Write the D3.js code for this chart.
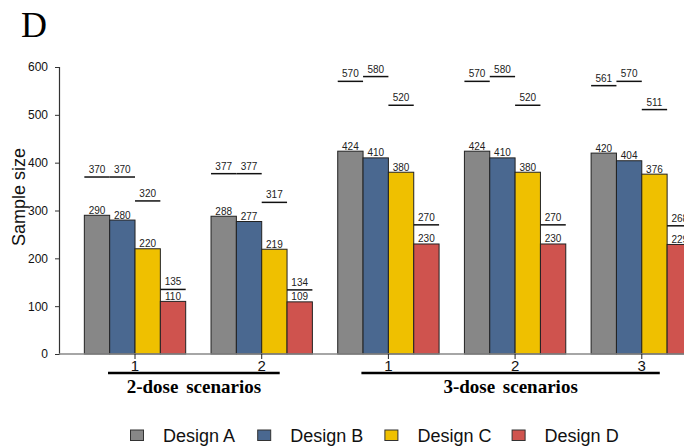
<!DOCTYPE html>
<html><head><meta charset="utf-8">
<script src="https://cdn.jsdelivr.net/npm/d3@7"></script>
<style>html,body{margin:0;padding:0;background:#fff;}svg{display:block;}</style>
</head><body>
<script>
const groups = ["1", "2", "1", "2", "3"];
const designs = ["Design A", "Design B", "Design C", "Design D"];
const colors = ["#878787", "#4a6890", "#efc000", "#cf534e"];
const designA = [290, 288, 424, 424, 420];
const designB = [280, 277, 410, 410, 404];
const designC = [220, 219, 380, 380, 376];
const designD = [110, 109, 230, 230, 229];
const upperA = [370, 377, 570, 570, 561];
const upperB = [370, 377, 580, 580, 570];
const upperC = [320, 317, 520, 520, 511];
const upperD = [135, 134, 270, 270, 268];
const yTicks = [0, 100, 200, 300, 400, 500, 600];
const scenarioLabels = ["2-dose scenarios", "3-dose scenarios"];
const scenarioGroups = [[0, 1], [2, 4]];

const values = [designA, designB, designC, designD];
const uppers = [upperA, upperB, upperC, upperD];

const W = 684, H = 446;
const svg = d3.select("body").append("svg").attr("width", W).attr("height", H);

const x0 = d3.scaleBand().domain(d3.range(groups.length)).range([59, 717.8]).paddingInner(0.2).paddingOuter(0.2);
const x1 = d3.scaleBand().domain(d3.range(designs.length)).range([0, x0.bandwidth()]);
const y = d3.scaleLinear().domain([0, 600]).range([354, 67]);

// Panel letter
svg.append("text").attr("x", 21).attr("y", 37).attr("font-family", "Liberation Serif, serif")
  .attr("font-size", 36).attr("fill", "#000").text("D");

// y axis
const yAxis = svg.append("g").attr("transform", "translate(59,0)")
  .call(d3.axisLeft(y).tickValues(yTicks).tickSize(4).tickPadding(7));
yAxis.select(".domain").attr("stroke", "#333").attr("stroke-width", 1.2);
yAxis.selectAll(".tick line").attr("stroke", "#333");
yAxis.selectAll("text").attr("font-family", "Liberation Sans, Arial, sans-serif").attr("font-size", 12).attr("fill", "#111");

svg.append("text").attr("transform", "translate(25,197) rotate(-90)").attr("text-anchor", "middle")
  .attr("font-family", "Liberation Sans, Arial, sans-serif").attr("font-size", 18).attr("fill", "#111").text("Sample size");

// bars
const gGroups = svg.selectAll("g.grp").data(groups).enter().append("g").attr("class", "grp")
  .attr("transform", (d, i) => `translate(${x0(i)},0)`);

designs.forEach((ds, k) => {
  gGroups.append("rect")
    .attr("x", x1(k)).attr("width", x1.bandwidth())
    .attr("y", (d, i) => y(values[k][i])).attr("height", (d, i) => y(0) - y(values[k][i]))
    .attr("fill", colors[k]).attr("stroke", "#222").attr("stroke-width", 1);
  gGroups.append("text")
    .attr("x", x1(k) + x1.bandwidth() / 2).attr("y", (d, i) => y(values[k][i]) - 1.5)
    .attr("text-anchor", "middle").attr("font-family", "Liberation Sans, Arial, sans-serif")
    .attr("font-size", 10).attr("fill", "#222").text((d, i) => values[k][i]);
  gGroups.append("line")
    .attr("x1", x1(k)).attr("x2", x1(k) + x1.bandwidth())
    .attr("y1", (d, i) => y(uppers[k][i])).attr("y2", (d, i) => y(uppers[k][i]))
    .attr("stroke", "#111").attr("stroke-width", 1.5);
  gGroups.append("text")
    .attr("x", x1(k) + x1.bandwidth() / 2).attr("y", (d, i) => y(uppers[k][i]) - 4)
    .attr("text-anchor", "middle").attr("font-family", "Liberation Sans, Arial, sans-serif")
    .attr("font-size", 10).attr("fill", "#222").text((d, i) => uppers[k][i]);
});

// x baseline
svg.append("line").attr("x1", 59).attr("x2", W).attr("y1", y(0)).attr("y2", y(0))
  .attr("stroke", "#888").attr("stroke-width", 1.5);
groups.forEach((g, i) => {
  const cx = x0(i) + x0.bandwidth() / 2;
  svg.append("line").attr("x1", cx).attr("x2", cx).attr("y1", y(0)).attr("y2", y(0) + 5).attr("stroke", "#222");
  svg.append("text").attr("x", cx).attr("y", 371).attr("text-anchor", "middle")
    .attr("font-family", "Liberation Sans, Arial, sans-serif").attr("font-size", 15).attr("fill", "#111").text(g);
});

// scenario underlines and labels
scenarioGroups.forEach((sg, j) => {
  const xa = x0(sg[0]) + x0.bandwidth() / 2 - 27;
  const xb = x0(sg[1]) + x0.bandwidth() / 2 + 18;
  svg.append("line").attr("x1", xa).attr("x2", xb).attr("y1", 373).attr("y2", 373)
    .attr("stroke", "#000").attr("stroke-width", 2.5);
  svg.append("text").attr("x", (xa + xb) / 2).attr("y", 392.5).attr("text-anchor", "middle")
    .attr("font-family", "Liberation Serif, serif").attr("font-weight", "bold").attr("font-size", 19)
    .attr("word-spacing", 3).attr("fill", "#000").text(scenarioLabels[j]);
});

// legend
const leg = svg.selectAll("g.leg").data(designs).enter().append("g").attr("class", "leg")
  .attr("transform", (d, i) => `translate(${130 + i * 127.2},0)`);
leg.append("rect").attr("x", 0.5).attr("y", 430).attr("width", 13).attr("height", 10.5)
  .attr("fill", (d, i) => colors[i]).attr("stroke", "#333").attr("stroke-width", 1);
leg.append("text").attr("x", 33).attr("y", 442).attr("font-family", "Liberation Sans, Arial, sans-serif")
  .attr("font-size", 18).attr("fill", "#111").text(d => d);
</script>
</body></html>
